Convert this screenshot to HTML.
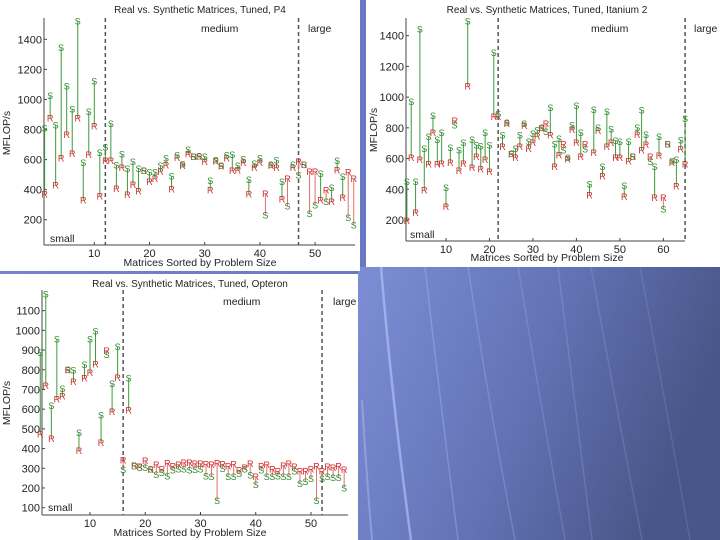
<!DOCTYPE html>
<html><head><meta charset="utf-8"><style>
html,body{margin:0;padding:0;width:720px;height:540px;overflow:hidden}
body{background:linear-gradient(90deg,#7484cc 0%,#6676c0 60%,#4a5a94 100%)}
svg{position:absolute;left:0;top:0}
text{font-family:"Liberation Sans",sans-serif}
</style></head><body>
<svg id="chart" width="720" height="540">
<defs>
<linearGradient id="bg2" x1="0" y1="0" x2="1" y2="0.3"><stop offset="0" stop-color="#7e8ed6"/><stop offset="0.55" stop-color="#6272b4"/><stop offset="1" stop-color="#485688"/></linearGradient>
</defs>
<rect x="358" y="267" width="362" height="273" fill="url(#bg2)"/>
<g fill="none" stroke="#b8c8ff">
<path d="M381 267 Q392 400 411 540" stroke-width="2.5" opacity="0.6"/>
<path d="M425 267 Q440 400 458 540" stroke-width="1.5" opacity="0.3"/>
<path d="M468 267 Q488 400 515 540" stroke-width="1.5" opacity="0.25"/>
<path d="M518 267 Q540 400 565 540" stroke-width="1.5" opacity="0.2"/>
<path d="M558 267 Q575 400 592 540" stroke-width="1.5" opacity="0.2"/>
<path d="M591 267 Q615 400 642 540" stroke-width="1.5" opacity="0.18"/>
<path d="M640 267 Q665 400 690 540" stroke-width="1.5" opacity="0.15"/>
<path d="M362 400 Q366 470 372 540" stroke-width="2" opacity="0.4"/>
</g>
<rect x="0" y="0" width="360" height="271" fill="#fff"/>
<rect x="366" y="0" width="354" height="267" fill="#fff"/>
<rect x="0" y="274" width="358" height="266" fill="#fff"/>
</svg>
<script>
const p4Synthetic=[810,1025,830,1345,1090,937,1522,580,919,1123,646,684,841,564,637,540,586,542,527,516,516,560,609,491,631,571,668,620,624,620,460,597,560,631,635,560,604,469,575,609,232,568,597,453,291,568,498,568,243,298,509,320,413,593,487,216,165];
const p4Real=[370,875,430,610,768,642,875,331,635,824,358,593,593,409,546,369,435,391,527,453,475,520,564,405,613,560,637,620,620,586,398,591,558,609,527,531,582,371,546,582,375,560,546,338,475,546,586,568,520,520,331,398,320,531,349,516,475];
const itSynthetic=[450,970,450,1443,667,742,879,725,768,410,671,818,656,703,1495,725,688,682,768,688,1291,894,753,836,634,667,753,829,710,764,786,803,775,931,695,732,656,608,818,944,771,662,434,920,803,547,905,792,716,710,424,710,612,801,916,757,580,547,742,272,695,584,595,721,862];
const itReal=[196,608,250,595,395,564,768,564,569,287,575,847,521,569,1072,541,612,532,595,515,873,873,677,829,630,608,677,814,667,703,747,797,829,753,547,623,695,597,790,703,612,695,363,638,784,486,677,703,608,608,352,584,612,757,656,692,612,347,619,347,695,575,421,662,564];
const opSynthetic=[887,1185,618,956,706,802,799,482,828,956,998,570,878,731,917,295,757,311,305,305,296,269,278,260,291,296,296,291,295,296,260,257,136,300,257,257,274,296,266,218,291,257,257,260,257,257,286,223,232,249,136,249,257,252,252,201];
const opReal=[474,719,452,652,667,799,740,389,757,785,829,432,897,587,762,342,596,313,308,339,295,320,296,328,311,320,330,330,325,325,322,320,328,322,311,322,291,305,325,257,311,320,296,286,313,325,308,286,286,296,311,286,308,305,311,294];
const p4YTicks=[200,400,600,800,1000,1200,1400];
const p4XTicks=[10,20,30,40,50];
const itYTicks=[200,400,600,800,1000,1200,1400];
const itXTicks=[10,20,30,40,50,60];
const opYTicks=[100,200,300,400,500,600,700,800,900,1000,1100];
const opXTicks=[10,20,30,40,50];

const NS='http://www.w3.org/2000/svg';
const svg=document.getElementById('chart');
function mk(tag,attrs,parent,txt){const e=document.createElementNS(NS,tag);for(const k in attrs)e.setAttribute(k,attrs[k]);if(txt!==undefined)e.textContent=txt;parent.appendChild(e);return e;}

function panel(cfg,S,R,yTicks,xTicks){
  const g=mk('g',{},svg);
  
  
  const xp=v=>cfg.x10+(v-10)*cfg.xu;
  const yp=v=>cfg.yRef+(cfg.vRef-v)*cfg.yu;
  const ax=mk('line',{x1:cfg.left,y1:cfg.bottom,x2:cfg.left,y2:cfg.top,stroke:'#444','stroke-width':1},g);
  
  
  const bx=mk('line',{x1:cfg.left,y1:cfg.bottom,x2:cfg.right,y2:cfg.bottom,stroke:'#444','stroke-width':1},g);
  
  
  yTicks.forEach(t=>{
    const y=yp(t);
    mk('line',{x1:cfg.left,y1:y,x2:cfg.left+3,y2:y,stroke:'#444'},g);
    const tl=mk('text',{x:cfg.left-2,y:y+4,'font-size':11,'text-anchor':'end',fill:'#222'},g,t);
    
    
  });
  xTicks.forEach(t=>{
    const x=xp(t);
    mk('line',{x1:x,y1:cfg.bottom,x2:x,y2:cfg.bottom-3,stroke:'#444'},g);
    const tl=mk('text',{x:x,y:cfg.bottom+12,'font-size':11,'text-anchor':'middle',fill:'#222'},g,t);
    
    
  });
  cfg.dashes.forEach(d=>{
    const dl=mk('line',{x1:xp(d),y1:cfg.top,x2:xp(d),y2:cfg.bottom,stroke:'#555','stroke-width':1.5,'stroke-dasharray':'4,3'},g);
    
    
  });
  const ttl=mk('text',{x:cfg.titleX,y:cfg.titleY,'font-size':10,'text-anchor':'middle',fill:'#222'},g,cfg.title);
  
  
  const xl=mk('text',{x:cfg.titleX,y:cfg.xlabY,'font-size':10.5,'text-anchor':'middle',fill:'#222'},g,'Matrices Sorted by Problem Size');
  
  
  const yl=mk('text',{x:cfg.ylabX,y:cfg.ylabY,'font-size':10.5,'text-anchor':'middle',fill:'#222',transform:`rotate(-90 ${cfg.ylabX} ${cfg.ylabY})`},g,'MFLOP/s');
  
  
  [['small',cfg.small],['medium',cfg.medium],['large',cfg.large]].forEach(([t,p])=>{
    const e=mk('text',{x:p[0],y:p[1],'font-size':10.5,fill:'#222'},g,t);
    
    
  });
  S.forEach((s,i)=>{
    const v=i+1, r=R[i], x=xp(v);
    const ln=mk('line',{x1:x,y1:yp(s),x2:x,y2:yp(r),stroke:s>=r?'#3a9a3a':'#e07070','stroke-width':1},g);
    
    
  });
  S.forEach((s,i)=>{
    const v=i+1, r=R[i], x=xp(v);
    const rt=mk('text',{x:x,y:yp(r)+3.5,'font-size':9,'text-anchor':'middle',fill:'#d42a2a'},g,'R');
    
    
    const st=mk('text',{x:x,y:yp(s)+3.5,'font-size':9,'text-anchor':'middle',fill:'#2a8a2a'},g,'S');
    
    
  });
}

panel({name:'chart-p4',title:'Real vs. Synthetic Matrices, Tuned, P4',x10:94.3,xu:5.52,yRef:39.3,vRef:1400,yu:0.15035,
  left:44,right:355,top:18,bottom:245,dashes:[12,47],titleX:200,titleY:13,xlabY:266,ylabX:10,ylabY:133,
  small:[50,242],medium:[201,32],large:[308,32]},p4Synthetic,p4Real,p4YTicks,p4XTicks);
panel({name:'chart-itanium',title:'Real vs. Synthetic Matrices, Tuned, Itanium 2',x10:446,xu:4.347,yRef:35.67,vRef:1400,yu:0.1536,
  left:406,right:685,top:18,bottom:241,dashes:[22,65],titleX:547,titleY:13,xlabY:261,ylabX:377,ylabY:130,
  small:[410,238],medium:[591,32],large:[694,32]},itSynthetic,itReal,itYTicks,itXTicks);
panel({name:'chart-opteron',title:'Real vs. Synthetic Matrices, Tuned, Opteron',x10:90,xu:5.525,yRef:310.67,vRef:1100,yu:0.197,
  left:42,right:348,top:290,bottom:515,dashes:[16,52],titleX:190,titleY:287,xlabY:536,ylabX:10,ylabY:403,
  small:[48,511],medium:[223,305],large:[333,305]},opSynthetic,opReal,opYTicks,opXTicks);
</script>
</body></html>
